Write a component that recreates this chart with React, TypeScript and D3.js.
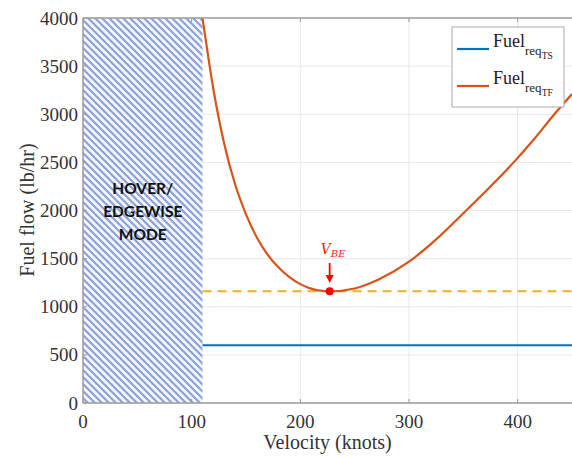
import React from "react";
import * as d3 from "d3";

const velocity = [110, 120, 130, 140, 150, 160, 170, 180, 190, 200, 210, 220, 227, 250, 272.5, 300, 325, 352.6, 375, 396.3, 415, 433, 450];
const fuelTF = [4000, 3260, 2690, 2270, 1960, 1720, 1540, 1408, 1308, 1235, 1188, 1164, 1160, 1190, 1285, 1468, 1700, 2000, 2250, 2500, 2740, 2990, 3210];
const fuelTS = 600;
const fuelMin = 1160;
const vBE = 227;
const hoverLimit = 110;
const xTicks = [0, 100, 200, 300, 400];
const yTicks = [0, 500, 1000, 1500, 2000, 2500, 3000, 3500, 4000];

const W = 572, H = 457;
const m = { left: 83, right: 0, top: 18, bottom: 54 };

export default function App() {
  const x = d3.scaleLinear().domain([0, 450]).range([m.left, W - m.right]);
  const y = d3.scaleLinear().domain([0, 4000]).range([H - m.bottom, m.top]);
  const pts = velocity.map((v, i) => [v, fuelTF[i]] as [number, number]);
  const line = d3.line<[number, number]>().x(d => x(d[0])).y(d => y(d[1])).curve(d3.curveMonotoneX);
  const serif = "'Liberation Serif', 'Times New Roman', serif";
  const axisCol = "#9a9a9a";
  const gridCol = "#e8e8e8";
  const x0 = m.left, x1 = W - m.right, y0 = H - m.bottom, y1 = m.top;
  return (
    <svg width={W} height={H} style={{ position: "absolute", left: 0, top: 0, background: "#fff" }}>
      <defs>
        <pattern id="hatch" width={7} height={7} patternUnits="userSpaceOnUse">
          <rect width={7} height={7} fill="#f3f6fd" />
          <path d="M-1,-1 L8,8 M-4.5,2.5 L1,8 M2.5,-4.5 L8,1" stroke="#8ea2d6" strokeWidth={2.2} />
        </pattern>
        <clipPath id="plot"><rect x={x0} y={y1} width={x1 - x0} height={y0 - y1} /></clipPath>
      </defs>
      {xTicks.slice(1).map(t => <line key={"gx" + t} x1={x(t)} x2={x(t)} y1={y1} y2={y0} stroke={gridCol} />)}
      {yTicks.slice(1, -1).map(t => <line key={"gy" + t} x1={x0} x2={x1} y1={y(t)} y2={y(t)} stroke={gridCol} />)}
      <rect x={x(0)} y={y1} width={x(hoverLimit) - x(0)} height={y0 - y1} fill="url(#hatch)" />
      <g fontFamily="Lato, 'Open Sans', sans-serif" fontWeight="bold" fontSize={15.5} fill="#111" textAnchor="middle">
        <text x={x(hoverLimit / 2)} y={194}>HOVER/</text>
        <text x={x(hoverLimit / 2)} y={217}>EDGEWISE</text>
        <text x={x(hoverLimit / 2)} y={240}>MODE</text>
      </g>
      <g clipPath="url(#plot)">
        <line x1={x(hoverLimit)} x2={x1} y1={y(fuelTS)} y2={y(fuelTS)} stroke="#0072BD" strokeWidth={2.2} />
        <line x1={x(hoverLimit)} x2={x1} y1={y(fuelMin)} y2={y(fuelMin)} stroke="#EDB120" strokeWidth={2} strokeDasharray="9,6" />
        <path d={line(pts) || ""} fill="none" stroke="#D95319" strokeWidth={2.2} />
      </g>
      <circle cx={x(vBE)} cy={y(fuelMin)} r={4} fill="#ff0000" />
      <line x1={x(vBE)} x2={x(vBE)} y1={263} y2={276} stroke="#ff0000" strokeWidth={1.8} />
      <path d={`M${x(vBE) - 4},${275} L${x(vBE) + 4},${275} L${x(vBE)},${283} Z`} fill="#ff0000" />
      <text x={x(vBE) - 9} y={254} fill="#ff1a1a" fontFamily="'DejaVu Serif', serif" fontStyle="italic" fontSize={14}>
        V<tspan fontSize={10} dy={3}>BE</tspan>
      </text>
      <line x1={x0} x2={x0} y1={y1} y2={y0} stroke={axisCol} strokeWidth={1.5} />
      <line x1={x0} x2={x1} y1={y0} y2={y0} stroke={axisCol} strokeWidth={1.5} />
      <line x1={x0} x2={x1} y1={y1} y2={y1} stroke={axisCol} strokeWidth={1.5} />
      {xTicks.map(t => (
        <g key={"xt" + t}>
          <line x1={x(t)} x2={x(t)} y1={y0} y2={y0 - 4} stroke={axisCol} />
          <line x1={x(t)} x2={x(t)} y1={y1} y2={y1 + 4} stroke={axisCol} />
          <text x={x(t)} y={428} textAnchor="middle" fontFamily={serif} fontSize={19} fill="#333">{t}</text>
        </g>
      ))}
      {yTicks.map(t => (
        <g key={"yt" + t}>
          <line x1={x0} x2={x0 + 4} y1={y(t)} y2={y(t)} stroke={axisCol} />
          <text x={78} y={y(t) + 6.5} textAnchor="end" fontFamily={serif} fontSize={19} fill="#333">{t}</text>
        </g>
      ))}
      <text x={(x0 + x1) / 2} y={449} textAnchor="middle" fontFamily={serif} fontSize={20} fill="#333">Velocity (knots)</text>
      <text transform={`translate(34,${210}) rotate(-90)`} textAnchor="middle" fontFamily={serif} fontSize={20} fill="#333">Fuel flow (lb/hr)</text>
      <rect x={452} y={27} width={112} height={80} fill="#fff" stroke="#aaa" strokeWidth={1} />
      <line x1={457} x2={489} y1={49} y2={49} stroke="#0072BD" strokeWidth={2.2} />
      <text x={493} y={47} fontFamily={serif} fontSize={18} fill="#222">
        Fuel<tspan fontSize={13} dy={8}>req</tspan><tspan fontSize={9.5} dy={4}>TS</tspan>
      </text>
      <line x1={457} x2={489} y1={86} y2={86} stroke="#D95319" strokeWidth={2.2} />
      <text x={493} y={84} fontFamily={serif} fontSize={18} fill="#222">
        Fuel<tspan fontSize={13} dy={8}>req</tspan><tspan fontSize={9.5} dy={4}>TF</tspan>
      </text>
    </svg>
  );
}
